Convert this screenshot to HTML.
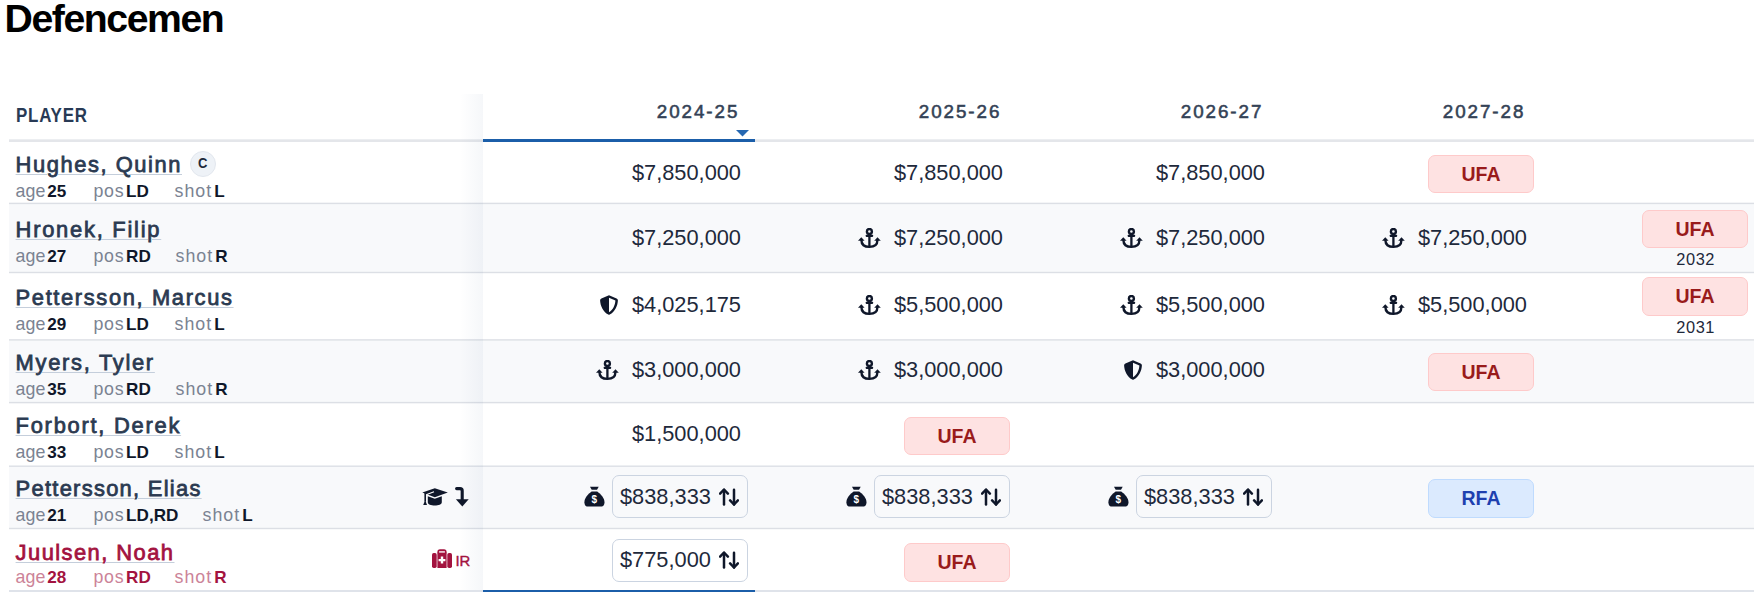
<!DOCTYPE html>
<html><head><meta charset="utf-8"><title>Defencemen</title>
<style>
html,body{margin:0;padding:0;background:#fff;}
body{width:1754px;height:592px;overflow:hidden;position:relative;font-family:"Liberation Sans", sans-serif;}
.a{position:absolute;white-space:nowrap;line-height:1;}
.a b{font-weight:700;margin-left:1.8px;font-size:17.1px;}
.bg{position:absolute;left:9px;right:0;}
.ln{position:absolute;left:9px;right:0;height:1px;background:#dcdfe5;}
.nm{text-decoration:underline;text-decoration-thickness:1.4px;text-underline-offset:2px;}
.cap{position:absolute;width:24px;height:24px;border:1px solid #e2e7ee;background:#eef2f7;border-radius:50%;font-size:15px;font-weight:700;color:#1e293b;text-align:center;line-height:23px;}
.cap span{display:inline-block;transform:scaleX(0.84);position:relative;top:-1.2px;font-size:15.5px;}
.val{position:absolute;display:flex;align-items:center;height:30px;font-size:21.8px;color:#1e293b;white-space:nowrap;line-height:30px;}
.ic{display:inline-block;position:relative;}
.ic svg{display:block;}
.badge{position:absolute;box-sizing:border-box;width:106px;height:38.5px;border-radius:7px;text-align:center;font-size:19.5px;font-weight:700;line-height:36.5px;}
.ufa{background:#fee2e2;border:1.3px solid #fecaca;color:#991b1b;}
.rfa{background:#dbeafe;border:1.3px solid #bfdbfe;color:#1e40af;}
.inw{position:absolute;display:flex;align-items:center;height:43px;white-space:nowrap;}
.inp{box-sizing:border-box;display:flex;align-items:center;height:43px;border:1.5px solid #cbd4e1;border-radius:7px;padding:0 7.5px 0 7px;font-size:21.8px;color:#1e293b;}
.ud{display:inline-block;margin-left:7.6px;margin-right:1px;}
.ud svg{display:block;}
</style></head>
<body>
<div class="a" style="left:4.5px;top:-1.29px;font-size:39.2px;font-weight:700;color:#000;letter-spacing:-1.42px;">Defencemen</div>
<div class="bg" style="top:203px;height:69px;background:#f8f9fb"></div>
<div class="bg" style="top:340px;height:63px;background:#f8f9fb"></div>
<div class="bg" style="top:466px;height:62px;background:#f8f9fb"></div>
<div class="ln" style="top:202px;opacity:0.30"></div>
<div class="ln" style="top:203px;opacity:1.00"></div>
<div class="ln" style="top:204px;opacity:0.10"></div>
<div class="ln" style="top:271px;opacity:0.20"></div>
<div class="ln" style="top:272px;opacity:1.00"></div>
<div class="ln" style="top:273px;opacity:0.20"></div>
<div class="ln" style="top:339px;opacity:0.80"></div>
<div class="ln" style="top:340px;opacity:0.60"></div>
<div class="ln" style="top:401px;opacity:0.10"></div>
<div class="ln" style="top:402px;opacity:1.00"></div>
<div class="ln" style="top:403px;opacity:0.30"></div>
<div class="ln" style="top:465px;opacity:0.50"></div>
<div class="ln" style="top:466px;opacity:0.90"></div>
<div class="ln" style="top:527px;opacity:0.20"></div>
<div class="ln" style="top:528px;opacity:1.00"></div>
<div class="ln" style="top:529px;opacity:0.20"></div>
<div class="bg" style="top:139px;height:3px;background:#e4e6ea"></div>
<div class="bg" style="top:139px;height:1px;background:#eceef1"></div>
<div style="position:absolute;left:483px;width:272px;top:139px;height:3px;background:#1b5ea9"></div>
<div style="position:absolute;left:9px;right:0;top:590px;height:2px;background:#dfe3ea"></div>
<div style="position:absolute;left:483px;width:272px;top:590px;height:2px;background:#1b5ea9"></div>
<svg style="position:absolute;left:735.5px;top:130px" width="13" height="6.5" viewBox="0 0 13 6.5"><path d="M0,0 L13,0 L6.5,6.5 Z" fill="#2668b2"/></svg>
<div style="position:absolute;left:460px;width:23px;top:94px;height:496px;background:linear-gradient(to right, rgba(30,70,130,0), rgba(30,70,130,0.045))"></div>
<div class="a" style="left:16.2px;top:106.14px;font-size:19.8px;font-weight:700;color:#283a55;letter-spacing:0.9px;transform:scaleX(0.855);transform-origin:0 0;">PLAYER</div>
<div class="a" style="right:1014.65px;top:102.68px;font-size:18.8px;font-weight:400;color:#344256;letter-spacing:1.95px;-webkit-text-stroke:0.55px #344256;">2024-25</div>
<div class="a" style="right:752.65px;top:102.68px;font-size:18.8px;font-weight:400;color:#344256;letter-spacing:1.95px;-webkit-text-stroke:0.55px #344256;">2025-26</div>
<div class="a" style="right:490.64999999999986px;top:102.68px;font-size:18.8px;font-weight:400;color:#344256;letter-spacing:1.95px;-webkit-text-stroke:0.55px #344256;">2026-27</div>
<div class="a" style="right:228.64999999999986px;top:102.68px;font-size:18.8px;font-weight:400;color:#344256;letter-spacing:1.95px;-webkit-text-stroke:0.55px #344256;">2027-28</div>
<div class="a" style="left:15.6px;top:153.86px;font-size:21.9px;font-weight:400;color:#2b3a51;letter-spacing:1.567px;-webkit-text-stroke:0.78px #2b3a51;"><span class="nm" style="text-decoration-color:#c4cedb">Hughes, Quinn</span></div>
<div class="a" style="left:15.6px;top:183.33px;font-size:17.8px;font-weight:400;color:#7b8392;letter-spacing:0px;"><span style="letter-spacing:0.1px">age</span><b style="color:#0f172a">25</b></div>
<div class="a" style="left:93.4px;top:183.33px;font-size:17.8px;font-weight:400;color:#7b8392;letter-spacing:0px;"><span style="letter-spacing:0.75px">pos</span><b style="color:#0f172a">LD</b></div>
<div class="a" style="left:174.4px;top:183.33px;font-size:17.8px;font-weight:400;color:#7b8392;letter-spacing:0px;"><span style="letter-spacing:1.1px">shot</span><b style="color:#0f172a">L</b></div>
<div class="cap" style="left:190px;top:151px"><span>C</span></div>
<div class="val" style="right:1013px;top:157.75px"><span>$7,850,000</span></div>
<div class="val" style="right:751px;top:157.75px"><span>$7,850,000</span></div>
<div class="val" style="right:489px;top:157.75px"><span>$7,850,000</span></div>
<div class="badge ufa" style="right:220px;top:154.9px">UFA</div>
<div class="a" style="left:15.6px;top:219.46px;font-size:21.9px;font-weight:400;color:#2b3a51;letter-spacing:1.75px;-webkit-text-stroke:0.78px #2b3a51;"><span class="nm" style="text-decoration-color:#c4cedb">Hronek, Filip</span></div>
<div class="a" style="left:15.6px;top:248.33px;font-size:17.8px;font-weight:400;color:#7b8392;letter-spacing:0px;"><span style="letter-spacing:0.1px">age</span><b style="color:#0f172a">27</b></div>
<div class="a" style="left:93.4px;top:248.33px;font-size:17.8px;font-weight:400;color:#7b8392;letter-spacing:0px;"><span style="letter-spacing:0.75px">pos</span><b style="color:#0f172a">RD</b></div>
<div class="a" style="left:175.4px;top:248.33px;font-size:17.8px;font-weight:400;color:#7b8392;letter-spacing:0px;"><span style="letter-spacing:1.1px">shot</span><b style="color:#0f172a">R</b></div>
<div class="val" style="right:1013px;top:222.65px"><span>$7,250,000</span></div>
<div class="val" style="right:751px;top:222.65px"><span class="ic" style="width:23px;height:21px;margin-right:13px;top:0.5px"><svg width="23" height="21" viewBox="0 0 23 21"><circle cx="11.4" cy="3.5" r="2.5" fill="none" stroke="#0f172a" stroke-width="2.4"/><rect x="7.6" y="6.8" width="7.6" height="2.1" rx="0.8" fill="#0f172a"/><rect x="10.25" y="6" width="2.3" height="13" fill="#0f172a"/><path d="M3.4,12 C3.4,16.8 6.2,18.9 11.4,18.9 C16.6,18.9 19.4,16.8 19.4,12" fill="none" stroke="#0f172a" stroke-width="2.4"/><path d="M0,12.8 L3.3,9.2 L6.6,12.8 Z" fill="#0f172a"/><path d="M16.2,12.8 L19.5,9.2 L22.8,12.8 Z" fill="#0f172a"/></svg></span><span>$7,250,000</span></div>
<div class="val" style="right:489px;top:222.65px"><span class="ic" style="width:23px;height:21px;margin-right:13px;top:0.5px"><svg width="23" height="21" viewBox="0 0 23 21"><circle cx="11.4" cy="3.5" r="2.5" fill="none" stroke="#0f172a" stroke-width="2.4"/><rect x="7.6" y="6.8" width="7.6" height="2.1" rx="0.8" fill="#0f172a"/><rect x="10.25" y="6" width="2.3" height="13" fill="#0f172a"/><path d="M3.4,12 C3.4,16.8 6.2,18.9 11.4,18.9 C16.6,18.9 19.4,16.8 19.4,12" fill="none" stroke="#0f172a" stroke-width="2.4"/><path d="M0,12.8 L3.3,9.2 L6.6,12.8 Z" fill="#0f172a"/><path d="M16.2,12.8 L19.5,9.2 L22.8,12.8 Z" fill="#0f172a"/></svg></span><span>$7,250,000</span></div>
<div class="val" style="right:227px;top:222.65px"><span class="ic" style="width:23px;height:21px;margin-right:13px;top:0.5px"><svg width="23" height="21" viewBox="0 0 23 21"><circle cx="11.4" cy="3.5" r="2.5" fill="none" stroke="#0f172a" stroke-width="2.4"/><rect x="7.6" y="6.8" width="7.6" height="2.1" rx="0.8" fill="#0f172a"/><rect x="10.25" y="6" width="2.3" height="13" fill="#0f172a"/><path d="M3.4,12 C3.4,16.8 6.2,18.9 11.4,18.9 C16.6,18.9 19.4,16.8 19.4,12" fill="none" stroke="#0f172a" stroke-width="2.4"/><path d="M0,12.8 L3.3,9.2 L6.6,12.8 Z" fill="#0f172a"/><path d="M16.2,12.8 L19.5,9.2 L22.8,12.8 Z" fill="#0f172a"/></svg></span><span>$7,250,000</span></div>
<div class="badge ufa" style="right:6px;top:209.7px">UFA</div>
<div class="a" style="left:1676.3px;top:251.41px;font-size:16.4px;font-weight:400;color:#1e293b;letter-spacing:0.55px;">2032</div>
<div class="a" style="left:15.6px;top:286.86px;font-size:21.9px;font-weight:400;color:#2b3a51;letter-spacing:1.632px;-webkit-text-stroke:0.78px #2b3a51;"><span class="nm" style="text-decoration-color:#c4cedb">Pettersson, Marcus</span></div>
<div class="a" style="left:15.6px;top:315.53px;font-size:17.8px;font-weight:400;color:#7b8392;letter-spacing:0px;"><span style="letter-spacing:0.1px">age</span><b style="color:#0f172a">29</b></div>
<div class="a" style="left:93.4px;top:315.53px;font-size:17.8px;font-weight:400;color:#7b8392;letter-spacing:0px;"><span style="letter-spacing:0.75px">pos</span><b style="color:#0f172a">LD</b></div>
<div class="a" style="left:174.4px;top:315.53px;font-size:17.8px;font-weight:400;color:#7b8392;letter-spacing:0px;"><span style="letter-spacing:1.1px">shot</span><b style="color:#0f172a">L</b></div>
<div class="val" style="right:1013px;top:290.35px"><span class="ic" style="width:18px;height:20px;margin-right:14.3px;top:0px"><svg width="18" height="20" viewBox="0 0 18 20"><path fill-rule="evenodd" d="M9,0.2 L16.6,3.4 Q17.9,4 17.9,5.4 C17.6,11 15,16.4 9.7,19.6 Q9,20 8.3,19.6 C3,16.4 0.4,11 0.1,5.4 Q0.1,4 1.4,3.4 Z M9,2.7 L15.4,5.5 C15.1,10.2 13.1,14.7 9,17.3 Z" fill="#0f172a"/></svg></span><span>$4,025,175</span></div>
<div class="val" style="right:751px;top:290.35px"><span class="ic" style="width:23px;height:21px;margin-right:13px;top:0.5px"><svg width="23" height="21" viewBox="0 0 23 21"><circle cx="11.4" cy="3.5" r="2.5" fill="none" stroke="#0f172a" stroke-width="2.4"/><rect x="7.6" y="6.8" width="7.6" height="2.1" rx="0.8" fill="#0f172a"/><rect x="10.25" y="6" width="2.3" height="13" fill="#0f172a"/><path d="M3.4,12 C3.4,16.8 6.2,18.9 11.4,18.9 C16.6,18.9 19.4,16.8 19.4,12" fill="none" stroke="#0f172a" stroke-width="2.4"/><path d="M0,12.8 L3.3,9.2 L6.6,12.8 Z" fill="#0f172a"/><path d="M16.2,12.8 L19.5,9.2 L22.8,12.8 Z" fill="#0f172a"/></svg></span><span>$5,500,000</span></div>
<div class="val" style="right:489px;top:290.35px"><span class="ic" style="width:23px;height:21px;margin-right:13px;top:0.5px"><svg width="23" height="21" viewBox="0 0 23 21"><circle cx="11.4" cy="3.5" r="2.5" fill="none" stroke="#0f172a" stroke-width="2.4"/><rect x="7.6" y="6.8" width="7.6" height="2.1" rx="0.8" fill="#0f172a"/><rect x="10.25" y="6" width="2.3" height="13" fill="#0f172a"/><path d="M3.4,12 C3.4,16.8 6.2,18.9 11.4,18.9 C16.6,18.9 19.4,16.8 19.4,12" fill="none" stroke="#0f172a" stroke-width="2.4"/><path d="M0,12.8 L3.3,9.2 L6.6,12.8 Z" fill="#0f172a"/><path d="M16.2,12.8 L19.5,9.2 L22.8,12.8 Z" fill="#0f172a"/></svg></span><span>$5,500,000</span></div>
<div class="val" style="right:227px;top:290.35px"><span class="ic" style="width:23px;height:21px;margin-right:13px;top:0.5px"><svg width="23" height="21" viewBox="0 0 23 21"><circle cx="11.4" cy="3.5" r="2.5" fill="none" stroke="#0f172a" stroke-width="2.4"/><rect x="7.6" y="6.8" width="7.6" height="2.1" rx="0.8" fill="#0f172a"/><rect x="10.25" y="6" width="2.3" height="13" fill="#0f172a"/><path d="M3.4,12 C3.4,16.8 6.2,18.9 11.4,18.9 C16.6,18.9 19.4,16.8 19.4,12" fill="none" stroke="#0f172a" stroke-width="2.4"/><path d="M0,12.8 L3.3,9.2 L6.6,12.8 Z" fill="#0f172a"/><path d="M16.2,12.8 L19.5,9.2 L22.8,12.8 Z" fill="#0f172a"/></svg></span><span>$5,500,000</span></div>
<div class="badge ufa" style="right:6px;top:277.3px">UFA</div>
<div class="a" style="left:1676.3px;top:319.31px;font-size:16.4px;font-weight:400;color:#1e293b;letter-spacing:0.55px;">2031</div>
<div class="a" style="left:15.6px;top:351.86px;font-size:21.9px;font-weight:400;color:#2b3a51;letter-spacing:1.705px;-webkit-text-stroke:0.78px #2b3a51;"><span class="nm" style="text-decoration-color:#c4cedb">Myers, Tyler</span></div>
<div class="a" style="left:15.6px;top:380.53px;font-size:17.8px;font-weight:400;color:#7b8392;letter-spacing:0px;"><span style="letter-spacing:0.1px">age</span><b style="color:#0f172a">35</b></div>
<div class="a" style="left:93.4px;top:380.53px;font-size:17.8px;font-weight:400;color:#7b8392;letter-spacing:0px;"><span style="letter-spacing:0.75px">pos</span><b style="color:#0f172a">RD</b></div>
<div class="a" style="left:175.4px;top:380.53px;font-size:17.8px;font-weight:400;color:#7b8392;letter-spacing:0px;"><span style="letter-spacing:1.1px">shot</span><b style="color:#0f172a">R</b></div>
<div class="val" style="right:1013px;top:355.35px"><span class="ic" style="width:23px;height:21px;margin-right:13px;top:0.5px"><svg width="23" height="21" viewBox="0 0 23 21"><circle cx="11.4" cy="3.5" r="2.5" fill="none" stroke="#0f172a" stroke-width="2.4"/><rect x="7.6" y="6.8" width="7.6" height="2.1" rx="0.8" fill="#0f172a"/><rect x="10.25" y="6" width="2.3" height="13" fill="#0f172a"/><path d="M3.4,12 C3.4,16.8 6.2,18.9 11.4,18.9 C16.6,18.9 19.4,16.8 19.4,12" fill="none" stroke="#0f172a" stroke-width="2.4"/><path d="M0,12.8 L3.3,9.2 L6.6,12.8 Z" fill="#0f172a"/><path d="M16.2,12.8 L19.5,9.2 L22.8,12.8 Z" fill="#0f172a"/></svg></span><span>$3,000,000</span></div>
<div class="val" style="right:751px;top:355.35px"><span class="ic" style="width:23px;height:21px;margin-right:13px;top:0.5px"><svg width="23" height="21" viewBox="0 0 23 21"><circle cx="11.4" cy="3.5" r="2.5" fill="none" stroke="#0f172a" stroke-width="2.4"/><rect x="7.6" y="6.8" width="7.6" height="2.1" rx="0.8" fill="#0f172a"/><rect x="10.25" y="6" width="2.3" height="13" fill="#0f172a"/><path d="M3.4,12 C3.4,16.8 6.2,18.9 11.4,18.9 C16.6,18.9 19.4,16.8 19.4,12" fill="none" stroke="#0f172a" stroke-width="2.4"/><path d="M0,12.8 L3.3,9.2 L6.6,12.8 Z" fill="#0f172a"/><path d="M16.2,12.8 L19.5,9.2 L22.8,12.8 Z" fill="#0f172a"/></svg></span><span>$3,000,000</span></div>
<div class="val" style="right:489px;top:355.35px"><span class="ic" style="width:18px;height:20px;margin-right:14.3px;top:0px"><svg width="18" height="20" viewBox="0 0 18 20"><path fill-rule="evenodd" d="M9,0.2 L16.6,3.4 Q17.9,4 17.9,5.4 C17.6,11 15,16.4 9.7,19.6 Q9,20 8.3,19.6 C3,16.4 0.4,11 0.1,5.4 Q0.1,4 1.4,3.4 Z M9,2.7 L15.4,5.5 C15.1,10.2 13.1,14.7 9,17.3 Z" fill="#0f172a"/></svg></span><span>$3,000,000</span></div>
<div class="badge ufa" style="right:220px;top:352.6px">UFA</div>
<div class="a" style="left:15.6px;top:415.46px;font-size:21.9px;font-weight:400;color:#2b3a51;letter-spacing:1.742px;-webkit-text-stroke:0.78px #2b3a51;"><span class="nm" style="text-decoration-color:#c4cedb">Forbort, Derek</span></div>
<div class="a" style="left:15.6px;top:444.23px;font-size:17.8px;font-weight:400;color:#7b8392;letter-spacing:0px;"><span style="letter-spacing:0.1px">age</span><b style="color:#0f172a">33</b></div>
<div class="a" style="left:93.4px;top:444.23px;font-size:17.8px;font-weight:400;color:#7b8392;letter-spacing:0px;"><span style="letter-spacing:0.75px">pos</span><b style="color:#0f172a">LD</b></div>
<div class="a" style="left:174.4px;top:444.23px;font-size:17.8px;font-weight:400;color:#7b8392;letter-spacing:0px;"><span style="letter-spacing:1.1px">shot</span><b style="color:#0f172a">L</b></div>
<div class="val" style="right:1013px;top:419.35px"><span>$1,500,000</span></div>
<div class="badge ufa" style="right:744px;top:416.6px">UFA</div>
<div class="a" style="left:15.6px;top:477.86px;font-size:21.9px;font-weight:400;color:#2b3a51;letter-spacing:1.281px;-webkit-text-stroke:0.78px #2b3a51;"><span class="nm" style="text-decoration-color:#c4cedb">Pettersson, Elias</span></div>
<div class="a" style="left:15.6px;top:506.53px;font-size:17.8px;font-weight:400;color:#7b8392;letter-spacing:0px;"><span style="letter-spacing:0.1px">age</span><b style="color:#0f172a">21</b></div>
<div class="a" style="left:93.4px;top:506.53px;font-size:17.8px;font-weight:400;color:#7b8392;letter-spacing:0px;"><span style="letter-spacing:0.75px">pos</span><b style="color:#0f172a">LD,RD</b></div>
<div class="a" style="left:202.4px;top:506.53px;font-size:17.8px;font-weight:400;color:#7b8392;letter-spacing:0px;"><span style="letter-spacing:1.1px">shot</span><b style="color:#0f172a">L</b></div>
<div class="a" style="left:422px;top:487.9px"><svg width="26" height="18" viewBox="0 0 26 18"><path d="M12.8,0.3 L25.8,4.6 L12.8,9.2 L0.3,4.6 Z" fill="#0f172a"/><path d="M5.8,8.2 L12.8,10.8 L19.8,8.2 L19.8,14.2 C19.8,16.4 16.6,17.5 12.8,17.5 C9,17.5 5.8,16.4 5.8,14.2 Z" fill="#0f172a"/><path d="M3.2,5 L3.2,13.5" stroke="#0f172a" stroke-width="1.6"/><path d="M1.2,17 L3.2,12 L5,17 Z" fill="#0f172a"/><path d="M12,3.8 L4.8,6.4" stroke="#fff" stroke-width="1.1"/></svg></div>
<div class="a" style="left:454.5px;top:487.1px"><svg width="14" height="20" viewBox="0 0 14 20"><path d="M1.6,1.6 L5,1.6 Q7.2,1.6 7.2,3.8 L7.2,13" fill="none" stroke="#0f172a" stroke-width="3.1" stroke-linecap="round"/><path d="M0.9,12.2 L13.7,12.2 L7.3,19.4 Z" fill="#0f172a"/></svg></div>
<div class="inw" style="right:1006px;top:475.1px"><span class="ic" style="width:21px;height:21px;margin-right:7px"><svg width="21" height="21" viewBox="0 0 21 21"><path d="M6,0.7 L14.7,0.7 L13,3.7 L7.7,3.7 Z" fill="#0f172a"/><path d="M7.6,5.5 L13.2,5.5 C17.3,8.4 20.5,12.3 20.5,16.4 C20.5,19.2 18.9,20.6 16.4,20.6 L4.4,20.6 C1.9,20.6 0.4,19.2 0.4,16.4 C0.4,12.3 3.5,8.4 7.6,5.5 Z" fill="#0f172a"/><text x="10.3" y="17.4" font-family="Liberation Sans" font-weight="bold" font-size="10" fill="#fff" text-anchor="middle">$</text></svg></span><span class="inp" style="background:#f8f9fb">$838,333<span class="ud"><svg width="20" height="18" viewBox="0 0 20 18" fill="none" stroke="#0f172a" stroke-width="2.5" stroke-linecap="round" stroke-linejoin="round"><path d="M5,2 L5,16.6"/><path d="M1.1,5.6 L5,1.5 L8.9,5.6"/><path d="M15,1.7 L15,16.4"/><path d="M11.1,12.4 L15,16.5 L18.9,12.4"/></svg></span></span></div>
<div class="inw" style="right:744px;top:475.1px"><span class="ic" style="width:21px;height:21px;margin-right:7px"><svg width="21" height="21" viewBox="0 0 21 21"><path d="M6,0.7 L14.7,0.7 L13,3.7 L7.7,3.7 Z" fill="#0f172a"/><path d="M7.6,5.5 L13.2,5.5 C17.3,8.4 20.5,12.3 20.5,16.4 C20.5,19.2 18.9,20.6 16.4,20.6 L4.4,20.6 C1.9,20.6 0.4,19.2 0.4,16.4 C0.4,12.3 3.5,8.4 7.6,5.5 Z" fill="#0f172a"/><text x="10.3" y="17.4" font-family="Liberation Sans" font-weight="bold" font-size="10" fill="#fff" text-anchor="middle">$</text></svg></span><span class="inp" style="background:#f8f9fb">$838,333<span class="ud"><svg width="20" height="18" viewBox="0 0 20 18" fill="none" stroke="#0f172a" stroke-width="2.5" stroke-linecap="round" stroke-linejoin="round"><path d="M5,2 L5,16.6"/><path d="M1.1,5.6 L5,1.5 L8.9,5.6"/><path d="M15,1.7 L15,16.4"/><path d="M11.1,12.4 L15,16.5 L18.9,12.4"/></svg></span></span></div>
<div class="inw" style="right:482px;top:475.1px"><span class="ic" style="width:21px;height:21px;margin-right:7px"><svg width="21" height="21" viewBox="0 0 21 21"><path d="M6,0.7 L14.7,0.7 L13,3.7 L7.7,3.7 Z" fill="#0f172a"/><path d="M7.6,5.5 L13.2,5.5 C17.3,8.4 20.5,12.3 20.5,16.4 C20.5,19.2 18.9,20.6 16.4,20.6 L4.4,20.6 C1.9,20.6 0.4,19.2 0.4,16.4 C0.4,12.3 3.5,8.4 7.6,5.5 Z" fill="#0f172a"/><text x="10.3" y="17.4" font-family="Liberation Sans" font-weight="bold" font-size="10" fill="#fff" text-anchor="middle">$</text></svg></span><span class="inp" style="background:#f8f9fb">$838,333<span class="ud"><svg width="20" height="18" viewBox="0 0 20 18" fill="none" stroke="#0f172a" stroke-width="2.5" stroke-linecap="round" stroke-linejoin="round"><path d="M5,2 L5,16.6"/><path d="M1.1,5.6 L5,1.5 L8.9,5.6"/><path d="M15,1.7 L15,16.4"/><path d="M11.1,12.4 L15,16.5 L18.9,12.4"/></svg></span></span></div>
<div class="badge rfa" style="right:220px;top:479.2px">RFA</div>
<div class="a" style="left:15.6px;top:541.86px;font-size:21.9px;font-weight:400;color:#a3133f;letter-spacing:1.458px;-webkit-text-stroke:0.78px #a3133f;"><span class="nm" style="text-decoration-color:#c4cedb">Juulsen, Noah</span></div>
<div class="a" style="left:15.6px;top:569.23px;font-size:17.8px;font-weight:400;color:#cc8398;letter-spacing:0px;"><span style="letter-spacing:0.1px">age</span><b style="color:#a3133f">28</b></div>
<div class="a" style="left:93.4px;top:569.23px;font-size:17.8px;font-weight:400;color:#cc8398;letter-spacing:0px;"><span style="letter-spacing:0.75px">pos</span><b style="color:#a3133f">RD</b></div>
<div class="a" style="left:174.4px;top:569.23px;font-size:17.8px;font-weight:400;color:#cc8398;letter-spacing:0px;"><span style="letter-spacing:1.1px">shot</span><b style="color:#a3133f">R</b></div>
<div class="a" style="left:431.5px;top:549.0px"><svg width="20" height="19" viewBox="0 0 20 19"><path d="M5.4,3 Q5.4,0.2 8,0.2 L12,0.2 Q14.6,0.2 14.6,3 L14.6,4.2 L12.9,4.2 L12.9,2.3 L7.1,2.3 L7.1,4.2 L5.4,4.2 Z" fill="#a3133f"/><rect x="0" y="4" width="4.7" height="15" rx="1.7" fill="#a3133f"/><rect x="15.3" y="4" width="4.7" height="15" rx="1.7" fill="#a3133f"/><rect x="5.4" y="3.6" width="9.2" height="15.4" fill="#a3133f"/><path d="M8.8,7.6 L11.2,7.6 L11.2,9.9 L13.4,9.9 L13.4,12.3 L11.2,12.3 L11.2,14.5 L8.8,14.5 L8.8,12.3 L6.6,12.3 L6.6,9.9 L8.8,9.9 Z" fill="#fff"/></svg></div>
<div class="a" style="left:455.6px;top:553.88px;font-size:14.9px;font-weight:400;color:#a3133f;letter-spacing:-0.2px;-webkit-text-stroke:0.4px #a3133f;">IR</div>
<div class="inw" style="right:1006px;top:538.9px"><span class="inp" style="background:#fff">$775,000<span class="ud"><svg width="20" height="18" viewBox="0 0 20 18" fill="none" stroke="#0f172a" stroke-width="2.5" stroke-linecap="round" stroke-linejoin="round"><path d="M5,2 L5,16.6"/><path d="M1.1,5.6 L5,1.5 L8.9,5.6"/><path d="M15,1.7 L15,16.4"/><path d="M11.1,12.4 L15,16.5 L18.9,12.4"/></svg></span></span></div>
<div class="badge ufa" style="right:744px;top:543.0px">UFA</div>
</body></html>
